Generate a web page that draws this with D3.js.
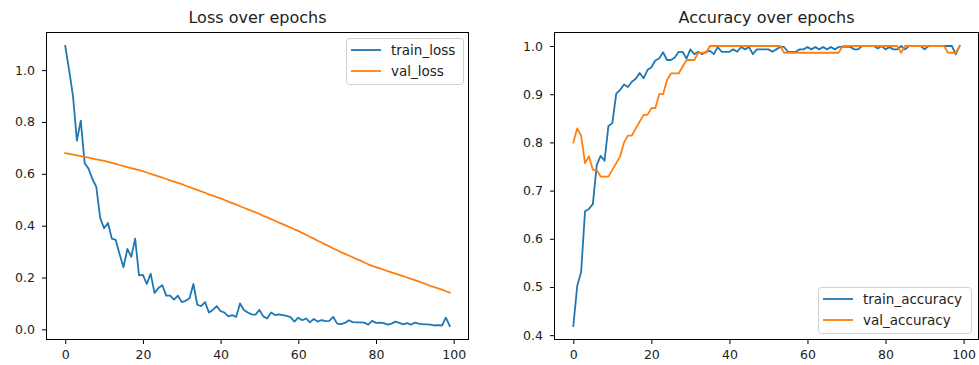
<!DOCTYPE html>
<html>
<head>
<meta charset="utf-8">
<script src="https://cdn.jsdelivr.net/npm/d3@7"></script>
<style>
  body { margin: 0; background: #fff; }
  svg { display: block; font-family: "DejaVu Sans", sans-serif; }
</style>
</head>
<body>
<svg id="chart" width="979" height="365"></svg>
<script>
// epochs 0..99
const epochs = d3.range(0, 100);

const trainLoss = [
  1.093, 1.000, 0.900, 0.728, 0.805, 0.641, 0.620, 0.580, 0.550, 0.430,
  0.390, 0.410, 0.350, 0.345, 0.290, 0.240, 0.310, 0.280, 0.350, 0.208,
  0.210, 0.175, 0.215, 0.140, 0.160, 0.170, 0.130, 0.130, 0.115, 0.130,
  0.105, 0.110, 0.120, 0.175, 0.095, 0.090, 0.105, 0.065, 0.075, 0.090,
  0.070, 0.065, 0.050, 0.055, 0.048, 0.100, 0.075, 0.065, 0.058, 0.057,
  0.075, 0.050, 0.042, 0.065, 0.055, 0.058, 0.055, 0.052, 0.047, 0.030,
  0.045, 0.035, 0.042, 0.027, 0.040, 0.030, 0.036, 0.032, 0.033, 0.048,
  0.022, 0.020, 0.025, 0.035, 0.028, 0.027, 0.027, 0.026, 0.018, 0.033,
  0.025, 0.026, 0.024, 0.018, 0.022, 0.030, 0.025, 0.019, 0.024, 0.018,
  0.026, 0.022, 0.020, 0.019, 0.018, 0.015, 0.016, 0.015, 0.045, 0.013
];

const valLoss = [
  0.680, 0.677, 0.674, 0.671, 0.668, 0.665, 0.662, 0.659, 0.656, 0.653,
  0.650, 0.646, 0.642, 0.638, 0.634, 0.630, 0.626, 0.622, 0.618, 0.614,
  0.610, 0.605, 0.600, 0.595, 0.590, 0.585, 0.580, 0.575, 0.570, 0.565,
  0.560, 0.554, 0.549, 0.543, 0.538, 0.532, 0.527, 0.521, 0.516, 0.510,
  0.505, 0.499, 0.493, 0.487, 0.481, 0.475, 0.469, 0.463, 0.457, 0.451,
  0.445, 0.438, 0.432, 0.425, 0.419, 0.412, 0.406, 0.399, 0.393, 0.386,
  0.380, 0.372, 0.365, 0.357, 0.350, 0.342, 0.335, 0.327, 0.320, 0.312,
  0.305, 0.298, 0.291, 0.285, 0.278, 0.271, 0.265, 0.258, 0.251, 0.245,
  0.240, 0.235, 0.230, 0.225, 0.220, 0.215, 0.210, 0.205, 0.200, 0.195,
  0.190, 0.185, 0.179, 0.174, 0.168, 0.163, 0.158, 0.153, 0.147, 0.142
];

const trainAcc = [
  0.419, 0.502, 0.531, 0.657, 0.662, 0.672, 0.753, 0.772, 0.762, 0.834,
  0.840, 0.901, 0.909, 0.920, 0.915, 0.926, 0.932, 0.944, 0.933, 0.950,
  0.956, 0.970, 0.974, 0.987, 0.971, 0.971, 0.976, 0.988, 0.988, 0.974,
  0.993, 0.983, 0.988, 0.983, 0.988, 0.990, 0.983, 0.998, 0.988, 0.988,
  0.988, 0.993, 0.988, 0.998, 0.993, 0.998, 0.983, 0.993, 0.993, 0.993,
  0.993, 0.988, 0.993, 0.998, 0.998, 0.988, 0.988, 0.988, 0.993, 0.993,
  0.998, 0.993, 0.998, 0.993, 0.998, 0.993, 0.998, 0.993, 0.998, 0.998,
  0.998, 0.998, 0.993, 0.993, 1.000, 1.000, 1.000, 1.000, 0.995, 1.000,
  0.993, 0.998, 0.993, 0.993, 1.000, 0.993, 1.000, 1.000, 1.000, 1.000,
  0.993, 1.000, 1.000, 1.000, 1.000, 1.000, 1.000, 1.000, 0.983, 1.000
];

const valAcc = [
  0.800, 0.829, 0.814, 0.757, 0.771, 0.743, 0.743, 0.729, 0.729, 0.729,
  0.743, 0.757, 0.771, 0.800, 0.814, 0.814, 0.829, 0.843, 0.857, 0.857,
  0.871, 0.871, 0.900, 0.900, 0.929, 0.943, 0.943, 0.943, 0.957, 0.971,
  0.971, 0.971, 0.986, 0.986, 0.986, 1.000, 1.000, 1.000, 1.000, 1.000,
  1.000, 1.000, 1.000, 1.000, 1.000, 1.000, 1.000, 1.000, 1.000, 1.000,
  1.000, 1.000, 1.000, 1.000, 0.986, 0.986, 0.986, 0.986, 0.986, 0.986,
  0.986, 0.986, 0.986, 0.986, 0.986, 0.986, 0.986, 0.986, 0.986, 1.000,
  1.000, 1.000, 1.000, 1.000, 1.000, 1.000, 1.000, 1.000, 1.000, 1.000,
  1.000, 1.000, 1.000, 1.000, 0.986, 1.000, 1.000, 1.000, 1.000, 1.000,
  1.000, 1.000, 1.000, 1.000, 1.000, 1.000, 0.986, 0.986, 0.986, 1.000
];

const xTicks = [0, 20, 40, 60, 80, 100];
const lossTicks = [0.0, 0.2, 0.4, 0.6, 0.8, 1.0];
const accTicks = [0.4, 0.5, 0.6, 0.7, 0.8, 0.9, 1.0];

const blue = '#1f77b4';
const orange = '#ff7f0e';
const textColor = '#222';

const svg = d3.select('#chart');

// matplotlib style 5% margin around data
function padded(ext) {
  const m = (ext[1] - ext[0]) * 0.05;
  return [ext[0] - m, ext[1] + m];
}

function drawPanel(opts) {
  const { left, right, top, bottom, title, series, yTicks, legendPos } = opts;

  const x = d3.scaleLinear()
    .domain(padded(d3.extent(epochs)))
    .range([left, right]);

  const allY = series.flatMap(s => s.values);
  const y = d3.scaleLinear()
    .domain(padded(d3.extent(allY)))
    .range([bottom, top]);

  const g = svg.append('g');

  // title
  g.append('text')
    .attr('x', (left + right) / 2)
    .attr('y', top - 9)
    .attr('text-anchor', 'middle')
    .style('font-size', '16px')
    .style('fill', textColor)
    .text(title);

  // lines
  const line = d3.line()
    .x((d, i) => x(epochs[i]))
    .y(d => y(d));

  series.forEach(s => {
    g.append('path')
      .datum(s.values)
      .attr('d', line)
      .attr('fill', 'none')
      .attr('stroke', s.color)
      .attr('stroke-width', 1.8)
      .attr('stroke-linejoin', 'round')
      .attr('stroke-linecap', 'square');
  });

  // axes
  const xAxis = g.append('g')
    .attr('transform', `translate(0,${bottom})`)
    .call(d3.axisBottom(x).tickValues(xTicks).tickFormat(d3.format('d'))
      .tickSize(4).tickSizeOuter(0).tickPadding(6));

  const yAxis = g.append('g')
    .attr('transform', `translate(${left},0)`)
    .call(d3.axisLeft(y).tickValues(yTicks).tickFormat(d3.format('.1f'))
      .tickSize(4).tickSizeOuter(0).tickPadding(7));

  [xAxis, yAxis].forEach(a => {
    a.select('.domain').remove();
    a.selectAll('.tick line').attr('stroke', '#000').attr('stroke-width', 1);
    a.selectAll('.tick text')
      .style('font-size', '12.5px')
      .style('font-family', '"DejaVu Sans", sans-serif')
      .attr('fill', textColor);
  });

  // spines
  g.append('rect')
    .attr('x', left + 0.5)
    .attr('y', top + 0.5)
    .attr('width', right - left - 1)
    .attr('height', bottom - top - 1)
    .attr('fill', 'none')
    .attr('stroke', '#000')
    .attr('stroke-width', 1);

  // legend
  const lg = g.append('g')
    .attr('transform', `translate(${legendPos.x},${legendPos.y})`);

  lg.append('rect')
    .attr('x', 0.5)
    .attr('y', 0.5)
    .attr('width', legendPos.w)
    .attr('height', 46)
    .attr('rx', 3)
    .attr('fill', 'rgba(255,255,255,0.8)')
    .attr('stroke', '#d0d0d0');

  series.forEach((s, i) => {
    const ly = 12 + i * 21;
    lg.append('line')
      .attr('x1', 5).attr('x2', 35)
      .attr('y1', ly).attr('y2', ly)
      .attr('stroke', s.color)
      .attr('stroke-width', 1.8);
    lg.append('text')
      .attr('x', 45)
      .attr('y', ly)
      .attr('dy', '0.35em')
      .style('font-size', '13.5px')
      .style('fill', textColor)
      .text(s.name);
  });
}

drawPanel({
  left: 46, right: 469, top: 32, bottom: 340,
  title: 'Loss over epochs',
  series: [
    { name: 'train_loss', values: trainLoss, color: blue },
    { name: 'val_loss', values: valLoss, color: orange }
  ],
  yTicks: lossTicks,
  legendPos: { x: 346, y: 38, w: 117 }
});

drawPanel({
  left: 554, right: 979, top: 32, bottom: 340,
  title: 'Accuracy over epochs',
  series: [
    { name: 'train_accuracy', values: trainAcc, color: blue },
    { name: 'val_accuracy', values: valAcc, color: orange }
  ],
  yTicks: accTicks,
  legendPos: { x: 818, y: 287, w: 153 }
});
</script>
</body>
</html>
